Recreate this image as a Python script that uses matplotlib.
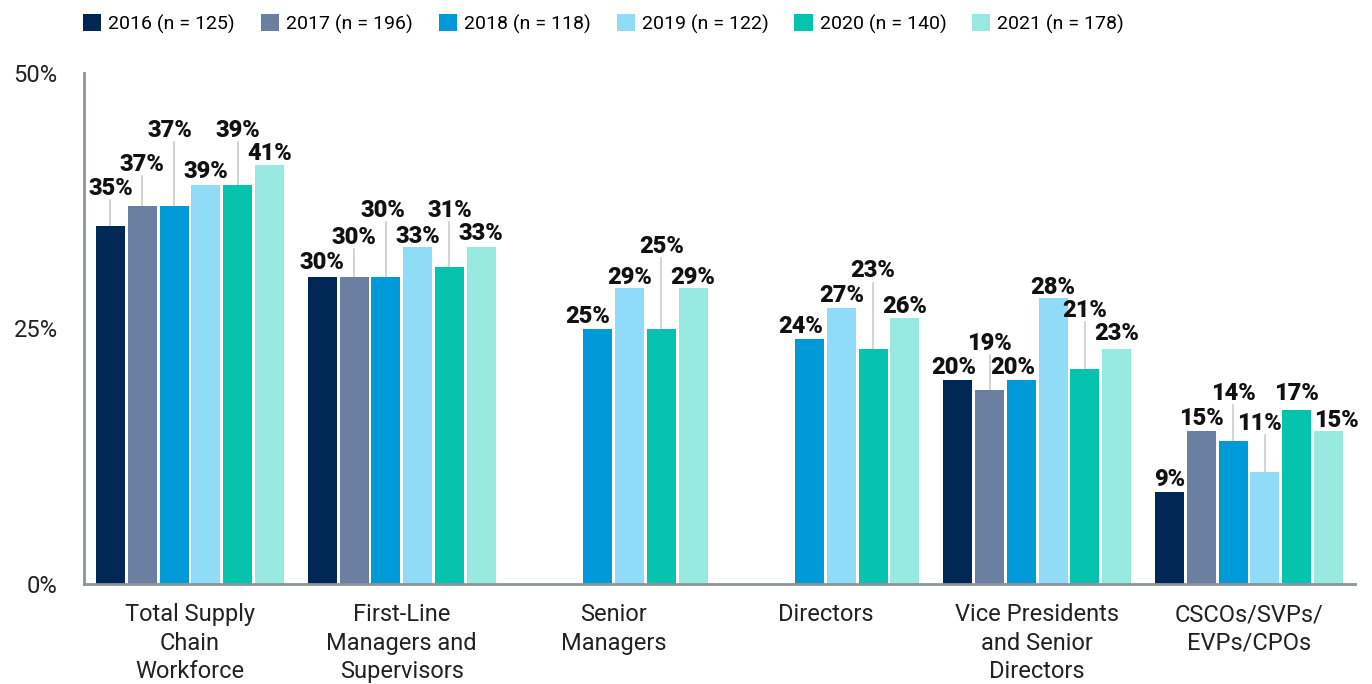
import numpy as np
import matplotlib.pyplot as plt
from matplotlib.patches import Patch

plt.rcParams['font.family'] = ['Roboto', 'DejaVu Sans']

# data
categories = ['Total Supply\nChain\nWorkforce', 'First-Line\nManagers and\nSupervisors',
              'Senior\nManagers', 'Directors', 'Vice Presidents\nand Senior\nDirectors',
              'CSCOs/SVPs/\nEVPs/CPOs']
years = ['2016 (n = 125)', '2017 (n = 196)', '2018 (n = 118)',
         '2019 (n = 122)', '2020 (n = 140)', '2021 (n = 178)']
v2016 = [35, 30, np.nan, np.nan, 20, 9]
v2017 = [37, 30, np.nan, np.nan, 19, 15]
v2018 = [37, 30, 25, 24, 20, 14]
v2019 = [39, 33, 29, 27, 28, 11]
v2020 = [39, 31, 25, 23, 21, 17]
v2021 = [41, 33, 29, 26, 23, 15]
series = [v2016, v2017, v2018, v2019, v2020, v2021]

colors = ['#002856', '#6b7fa3', '#009ad8', '#90dcf8', '#06c3b0', '#98e9df']

# label placement (how far the label sits above its bar, in % units) and x nudges (px)
lift = {(0, 0): 3.06, (0, 1): 3.4, (0, 2): 6.7, (0, 3): 0.7, (0, 4): 4.7, (0, 5): 0.5,
        (1, 0): 0.8, (1, 1): 3.3, (1, 2): 5.9, (1, 3): 0.4, (1, 4): 4.9, (1, 5): 0.7,
        (2, 3): 0.35, (2, 4): 7.4, (2, 5): 0.35,
        (3, 4): 7.0,
        (4, 1): 3.9, (4, 3): 0.4, (4, 4): 5.1, (4, 5): 0.9,
        (5, 2): 4.0, (5, 3): 4.1, (5, 4): 1.0, (5, 5): 0.4}
nudge = {(0, 2): -4, (1, 2): -3, (2, 2): -10, (3, 2): -9, (4, 0): -4, (4, 2): -9,
         (5, 3): -6, (5, 5): 8}

fig = plt.figure(figsize=(13.72, 6.84), dpi=100)
ax = fig.add_axes([84 / 1372, 1 - 584 / 684, (1355 - 84) / 1372, (584 - 73) / 684])

x = np.arange(len(categories))
pitch = 0.15
width = 0.137
px = 1 / 211.8  # one pixel in x data units

for i, vals in enumerate(series):
    xs = x + (i - 2.5) * pitch
    ax.bar(xs, vals, width=width, color=colors[i], label=years[i], zorder=2)
    for g, v in enumerate(vals):
        if np.isnan(v):
            continue
        up = lift.get((g, i), 0.55)
        tx = xs[g] + nudge.get((g, i), 0) * px
        ax.text(tx, v + up, f'{v:.0f}%', ha='center', va='baseline',
                fontsize=17, fontweight='black', color='#111111', zorder=4)
        if up > 2:
            ax.plot([xs[g], xs[g]], [v, v + up - 0.5], color='#c9c9c9', lw=1.1, zorder=1)

ax.set_xlim(-0.5, 5.5)
ax.set_ylim(0, 50)
ax.set_xticks(x)
ax.set_xticklabels(categories, fontsize=17, color='#222222', linespacing=1.3)
ax.set_yticks([0, 25, 50])
ax.set_yticklabels(['0%', '25%', '50%'], fontsize=17, color='#222222')
ax.tick_params(axis='x', length=0, pad=14)
ax.tick_params(axis='y', length=0, pad=19)
for s in ['top', 'right']:
    ax.spines[s].set_visible(False)
for s in ['left', 'bottom']:
    ax.spines[s].set_color('#8c9597')
    ax.spines[s].set_linewidth(2)

handles = [Patch(facecolor=c) for c in colors]
fig.legend(handles, years, loc='center left', bbox_to_anchor=(83 / 1372, 1 - 24 / 684),
           ncol=6, frameon=False, fontsize=14, handlelength=0.93, handleheight=0.93,
           handletextpad=0.36, columnspacing=1.34, borderpad=0, borderaxespad=0)

fig.savefig('out.png', dpi=100)
